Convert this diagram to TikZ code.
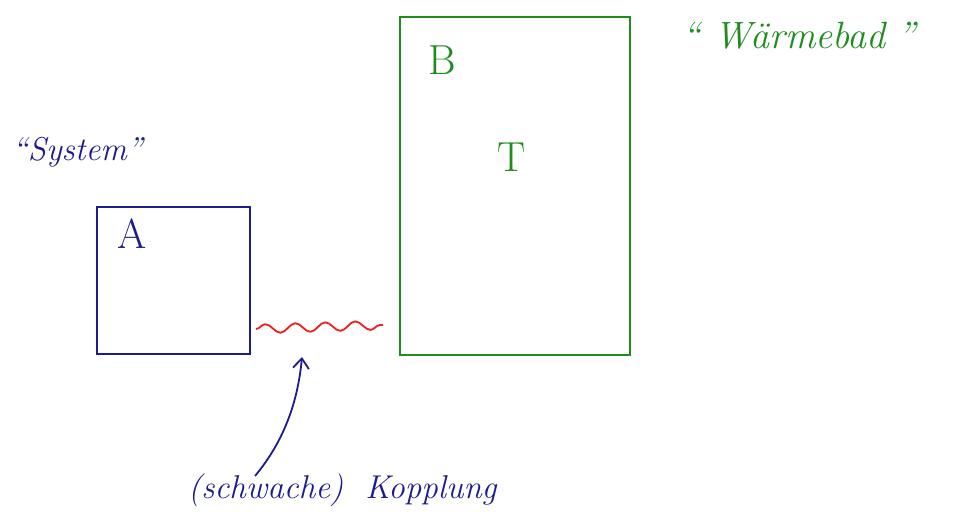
\documentclass[tikz,border=0pt]{standalone}
\usetikzlibrary{decorations.pathmorphing,arrows.meta}
\definecolor{inkblue}{RGB}{28,28,140}
\definecolor{inkgreen}{RGB}{30,140,30}
\definecolor{inkred}{RGB}{240,30,30}
\begin{document}
\begin{tikzpicture}[x=1pt,y=-1pt,
  bluebox/.style={draw=inkblue,line width=2pt,minimum width=153pt,minimum height=147pt,inner sep=0pt},
  greenbox/.style={draw=inkgreen,line width=2pt,minimum width=230pt,minimum height=338pt,inner sep=0pt},
  hand/.style={font=\itshape\fontsize{33}{37}\selectfont,inner sep=0pt},
  letter/.style={font=\fontsize{42}{46}\selectfont,inner sep=0pt}]
\useasboundingbox (0,0) rectangle (969,527);
\node[bluebox] (A) at (173.5,280.5) {};
\node[greenbox] (B) at (515,186) {};
\node[letter,text=inkblue] (Alab) at (132,234) {A};
\node[letter,text=inkgreen] (Blab) at (442,60) {B};
\node[letter,text=inkgreen] (Tlab) at (512,157) {T};
\node[hand,text=inkblue,anchor=west] (sys) at (12,152) {``System''};
\node[hand,text=inkgreen,anchor=west,font=\itshape\fontsize{38}{42}\selectfont] (bad) at (682,36) {``\hspace{14pt}W\"armebad\hspace{12pt}''};
\node[hand,text=inkblue,anchor=west] (kop) at (188,490) {(schwache)\hspace{22pt}Kopplung};
\coordinate (w1) at (256,329);
\coordinate (w2) at (383,325);
\coordinate (tip) at (302,357);
\draw[inkred,line width=1.8pt,decorate,decoration={snake,amplitude=4.5pt,segment length=30pt}] (w1) -- (w2);
\draw[inkblue,line width=1.8pt,-{Straight Barb[length=10pt,width=16pt]}] (255,476) .. controls (285,440) and (298,400) .. (tip);
\end{tikzpicture}
\end{document}
